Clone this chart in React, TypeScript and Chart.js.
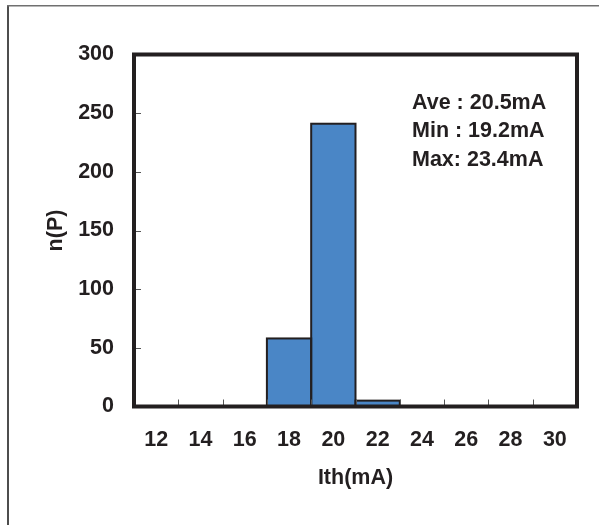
import React, { useEffect, useRef } from 'react';
import { Chart, registerables } from 'chart.js';

Chart.register(...registerables);

const categories = ['12', '14', '16', '18', '20', '22', '24', '26', '28', '30'];
const counts = [0, 0, 0, 58, 241, 5, 0, 0, 0, 0];
const yTickValues = [0, 50, 100, 150, 200, 250, 300];
const statsLines = ['Ave : 20.5mA', 'Min : 19.2mA', 'Max: 23.4mA'];
const xTitle = 'Ith(mA)';
const yTitle = 'n(P)';

const INK = '#231f20';
const BAR = '#4a86c6';
const FONT_FAMILY = '"Liberation Sans", Arial, Helvetica, sans-serif';
const FONT_SIZE = 21.5;

const decor = {
  id: 'decor',
  beforeDraw(chart: any) {
    const ctx = chart.ctx;
    ctx.save();
    ctx.fillStyle = '#ffffff';
    ctx.fillRect(0, 0, chart.width, chart.height);
    ctx.fillStyle = '#4d4d4d';
    ctx.fillRect(7, 5, 2, chart.height - 5);
    ctx.fillStyle = '#707070';
    ctx.fillRect(7, 5, chart.width - 7, 1.5);
    ctx.restore();
  },
  afterDatasetsDraw(chart: any) {
    const { ctx, chartArea: a, scales } = chart;
    const meta = chart.getDatasetMeta(0);
    ctx.save();
    // bar outlines
    ctx.strokeStyle = INK;
    ctx.lineWidth = 2;
    meta.data.forEach((bar: any, i: number) => {
      if (!counts[i]) return;
      const { x, y, base, width } = bar.getProps(['x', 'y', 'base', 'width'], true);
      ctx.strokeRect(x - width / 2, y, width, base - y);
    });
    // inner tick marks
    ctx.strokeStyle = '#555555';
    ctx.lineWidth = 1;
    yTickValues.slice(1, -1).forEach((v) => {
      const py = Math.round(scales.y.getPixelForValue(v)) + 0.5;
      ctx.beginPath();
      ctx.moveTo(a.left, py);
      ctx.lineTo(a.left + 7, py);
      ctx.stroke();
    });
    for (let i = 1; i < categories.length; i++) {
      const px = Math.round((scales.x.getPixelForValue(i - 1) + scales.x.getPixelForValue(i)) / 2) + 0.5;
      ctx.beginPath();
      ctx.moveTo(px, a.bottom);
      ctx.lineTo(px, a.bottom - 7);
      ctx.stroke();
    }
    // plot frame
    ctx.strokeStyle = INK;
    ctx.lineWidth = 4;
    ctx.strokeRect(a.left, a.top, a.right - a.left, a.bottom - a.top);
    // stats text
    ctx.font = `bold ${FONT_SIZE}px ${FONT_FAMILY}`;
    ctx.fillStyle = INK;
    ctx.textAlign = 'left';
    ctx.textBaseline = 'alphabetic';
    statsLines.forEach((t, i) => {
      ctx.fillText(t, a.left + 278, a.top + 54 + i * 28.7);
    });
    ctx.restore();
  },
};

export default function App() {
  const ref = useRef<HTMLCanvasElement | null>(null);

  useEffect(() => {
    document.body.style.margin = '0';
    const canvas = ref.current;
    if (!canvas) return;
    const font = { family: FONT_FAMILY, size: FONT_SIZE, weight: 'bold' as const };
    const chart = new Chart(canvas, {
      type: 'bar',
      data: {
        labels: categories,
        datasets: [
          {
            data: counts,
            backgroundColor: BAR,
            borderWidth: 0,
            barPercentage: 1,
            categoryPercentage: 1,
          },
        ],
      },
      options: {
        responsive: false,
        animation: false,
        devicePixelRatio: 1,
        layout: { padding: { left: 0, top: 54.5, right: 22, bottom: 0 } },
        plugins: {
          legend: { display: false },
          tooltip: { enabled: false },
          title: { display: false },
        },
        scales: {
          x: {
            type: 'category',
            offset: true,
            grid: { display: false, drawTicks: false },
            border: { display: false },
            ticks: {
              color: INK,
              font,
              padding: 21,
              autoSkip: false,
              maxRotation: 0,
              minRotation: 0,
            },
            title: {
              display: true,
              text: xTitle,
              color: INK,
              font,
              padding: { top: 0, bottom: 34 },
            },
            afterFit: (scale: any) => {
              scale.height = 118.5;
            },
          },
          y: {
            min: 0,
            max: 300,
            grid: { display: false, drawTicks: false },
            border: { display: false },
            ticks: {
              stepSize: 50,
              color: INK,
              font,
              padding: 20,
            },
            title: {
              display: true,
              text: yTitle,
              color: INK,
              font,
              padding: { top: 43, bottom: 0 },
            },
            afterFit: (scale: any) => {
              scale.width = 134;
            },
          },
        },
      },
      plugins: [decor],
    });
    return () => chart.destroy();
  }, []);

  return (
    <div style={{ position: 'fixed', left: 0, top: 0, width: 599, height: 525 }}>
      <canvas ref={ref} width={599} height={525} style={{ display: 'block', width: 599, height: 525 }} />
    </div>
  );
}
